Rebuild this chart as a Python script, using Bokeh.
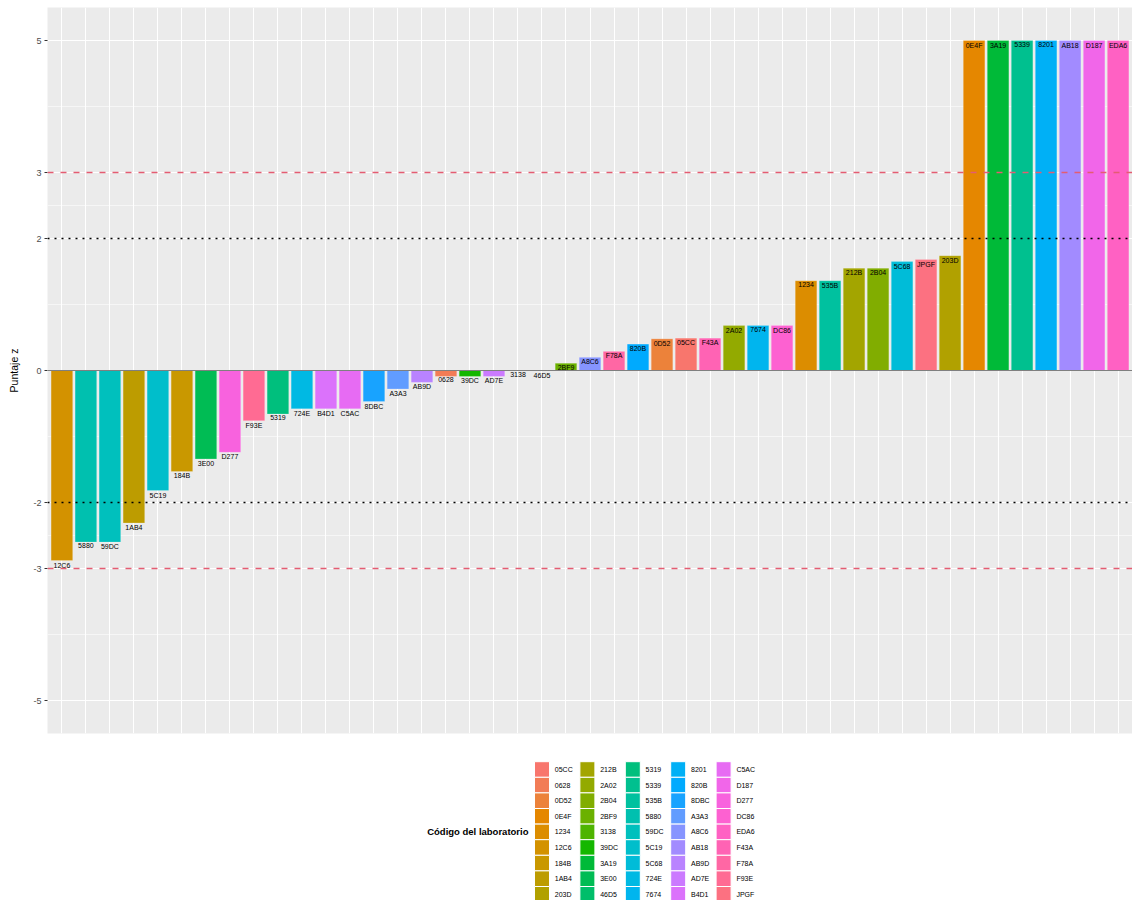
import math
from bokeh.plotting import figure
from bokeh.models import (ColumnDataSource, FactorRange, Range1d, Span,
                          FixedTicker, Label)
from bokeh.layouts import column
from bokeh.core.properties import value
from bokeh.embed import file_html
from bokeh.resources import INLINE

# ---------------- data (bar order, left to right) ----------------
labs = ["12C6", "5880", "59DC", "1AB4", "5C19", "184B", "3E00", "D277",
        "F93E", "5319", "724E", "B4D1", "C5AC", "8DBC", "A3A3", "AB9D",
        "0628", "39DC", "AD7E", "3138", "46D5", "2BF9", "A8C6", "F78A",
        "820B", "0D52", "05CC", "F43A", "2A02", "7674", "DC86", "1234",
        "535B", "212B", "2B04", "5C68", "JPGF", "203D", "0E4F", "3A19",
        "5339", "8201", "AB18", "D187", "EDA6"]
zscores = [-2.88, -2.60, -2.60, -2.31, -1.82, -1.53, -1.34, -1.24,
           -0.76, -0.66, -0.58, -0.58, -0.58, -0.47, -0.28, -0.18,
           -0.09, -0.09, -0.09, 0.0, 0.0, 0.11, 0.20, 0.29,
           0.40, 0.48, 0.49, 0.49, 0.68, 0.68, 0.68, 1.36,
           1.36, 1.55, 1.55, 1.65, 1.68, 1.74, 5.0, 5.0,
           5.0, 5.0, 5.0, 5.0, 5.0]
y_ticks = [-5, -3, -2, 0, 2, 3, 5]
y_tick_labels = ["-5", "-3", "-2", "0", "2", "3", "5"]
y_minor = [-4, -2.5, -1, 1, 2.5, 4]
action_limits = [-3, 3]
warning_limits = [-2, 2]
legend_title = "Código del laboratorio"
y_title = "Puntaje z"

# ---------------- ggplot-like hue palette ----------------
def hcl_hex(h, c=100.0, l=65.0):
    WX, WY, WZ = 95.047, 100.000, 108.883
    hr = math.radians(h)
    U = c * math.cos(hr)
    V = c * math.sin(hr)
    Y = WY * (((l + 16) / 116) ** 3 if l > 7.999592 else l / 903.3)
    t = WX + WY + WZ
    x = WX / t
    y = WY / t
    uN = 2 * x / (6 * y - x + 1.5)
    vN = 4.5 * y / (6 * y - x + 1.5)
    u = U / (13 * l) + uN
    v = V / (13 * l) + vN
    X = 9.0 * Y * u / (4 * v)
    Z = -X / 3 - 5 * Y + 3 * Y / v

    def g(q):
        return 1.055 * q ** (1 / 2.4) - 0.055 if q > 0.00304 else 12.92 * q

    R = g((3.240479 * X - 1.537150 * Y - 0.498535 * Z) / WY)
    G = g((-0.969256 * X + 1.875992 * Y + 0.041556 * Z) / WY)
    B = g((0.055648 * X - 0.204043 * Y + 1.057311 * Z) / WY)
    rgb = [int(round(255 * min(1, max(0, q)))) for q in (R, G, B)]
    return "#%02X%02X%02X" % tuple(rgb)


levels = sorted(labs)
n = len(levels)
palette = [hcl_hex(15 + 360.0 * i / n) for i in range(n)]
color_of = dict(zip(levels, palette))

FONT = "Liberation Sans"
W = 1132
PANEL_LEFT = 47

# ---------------- main chart ----------------
src = ColumnDataSource(dict(lab=labs, z=zscores,
                            color=[color_of[k] for k in labs]))

p = figure(width=W, height=737, output_backend="svg", toolbar_location=None,
           x_range=FactorRange(factors=labs, range_padding=0.1,
                               range_padding_units="absolute"),
           y_range=Range1d(-5.5, 5.5),
           min_border_left=PANEL_LEFT, min_border_right=0, min_border_top=7,
           min_border_bottom=4)
p.background_fill_color = "#EBEBEB"
p.border_fill_color = "white"
p.outline_line_color = None

p.vbar(x="lab", top="z", bottom=0, width=0.9, fill_color="color",
       line_color="white", line_alpha=0.35, line_width=0.6, source=src)

p.text(x="lab", y="z", text="lab", source=src, text_align="center",
       text_baseline="top", text_font=value(FONT), text_font_size="7px",
       text_color="black", y_offset=1)

# reference lines
p.add_layout(Span(location=0, dimension="width", line_color="#7F7F7F",
                  line_width=1.2))
for yl in action_limits:
    p.add_layout(Span(location=yl, dimension="width", line_color="#E45C72",
                      line_width=1.6, line_dash="6 7"))
for yl in warning_limits:
    p.add_layout(Span(location=yl, dimension="width", line_color="black",
                      line_width=1.6, line_dash="2 5"))

# axes and grids
p.xaxis.visible = False
p.xgrid.grid_line_color = "white"
p.xgrid.grid_line_width = 1.1

ticker = FixedTicker(ticks=y_ticks, minor_ticks=y_minor)
p.yaxis.ticker = ticker
p.ygrid.ticker = ticker
p.yaxis.major_label_overrides = dict(zip(y_ticks, y_tick_labels))
p.ygrid.grid_line_color = "white"
p.ygrid.grid_line_width = 1.1
p.ygrid.minor_grid_line_color = "white"
p.ygrid.minor_grid_line_width = 0.55
p.yaxis.axis_line_color = None
p.yaxis.major_tick_line_color = "#333333"
p.yaxis.major_tick_out = 3
p.yaxis.major_tick_in = 0
p.yaxis.minor_tick_line_color = None
p.yaxis.major_label_text_color = "#4D4D4D"
p.yaxis.major_label_text_font = FONT
p.yaxis.major_label_text_font_size = "9px"
p.yaxis.major_label_standoff = 2
p.yaxis.axis_label = y_title
p.yaxis.axis_label_text_font = FONT
p.yaxis.axis_label_text_font_size = "10.5px"
p.yaxis.axis_label_text_font_style = "normal"
p.yaxis.axis_label_text_color = "black"
p.yaxis.axis_label_standoff = 10

# ---------------- legend (separate panel, x in page pixels) ----------------
LH = 163
leg = figure(width=W, height=LH, output_backend="svg", toolbar_location=None,
             x_range=Range1d(PANEL_LEFT, W), y_range=Range1d(LH, 0),
             min_border_left=PANEL_LEFT, min_border_right=0,
             min_border_top=0, min_border_bottom=0)
leg.outline_line_color = None
leg.axis.visible = False
leg.grid.visible = False
leg.border_fill_color = "white"
leg.background_fill_color = "white"

nrows = 9
col_x0, col_dx = 541.5, 45.4
row_y0, row_dy = 32.0, 15.6
kx = [col_x0 + (i // nrows) * col_dx for i in range(n)]
ky = [row_y0 + (i % nrows) * row_dy for i in range(n)]
lsrc = ColumnDataSource(dict(x=kx, y=ky, lab=levels, color=palette,
                             tx=[v + 12.8 for v in kx]))
leg.rect(x="x", y="y", width=15, height=row_dy, fill_color="color",
         line_color="white", line_width=1, source=lsrc)
leg.text(x="tx", y="y", text="lab", source=lsrc, text_align="left",
         text_baseline="middle", text_font=value(FONT), text_font_size="7px",
         text_color="black")
leg.add_layout(Label(x=528, y=row_y0 + 4 * row_dy, text=legend_title,
                     text_align="right", text_baseline="middle",
                     text_font=FONT, text_font_size="9.5px",
                     text_font_style="bold", text_color="black"))

layout = column(p, leg, spacing=0)
open("out.html", "w").write(file_html(layout, INLINE))
